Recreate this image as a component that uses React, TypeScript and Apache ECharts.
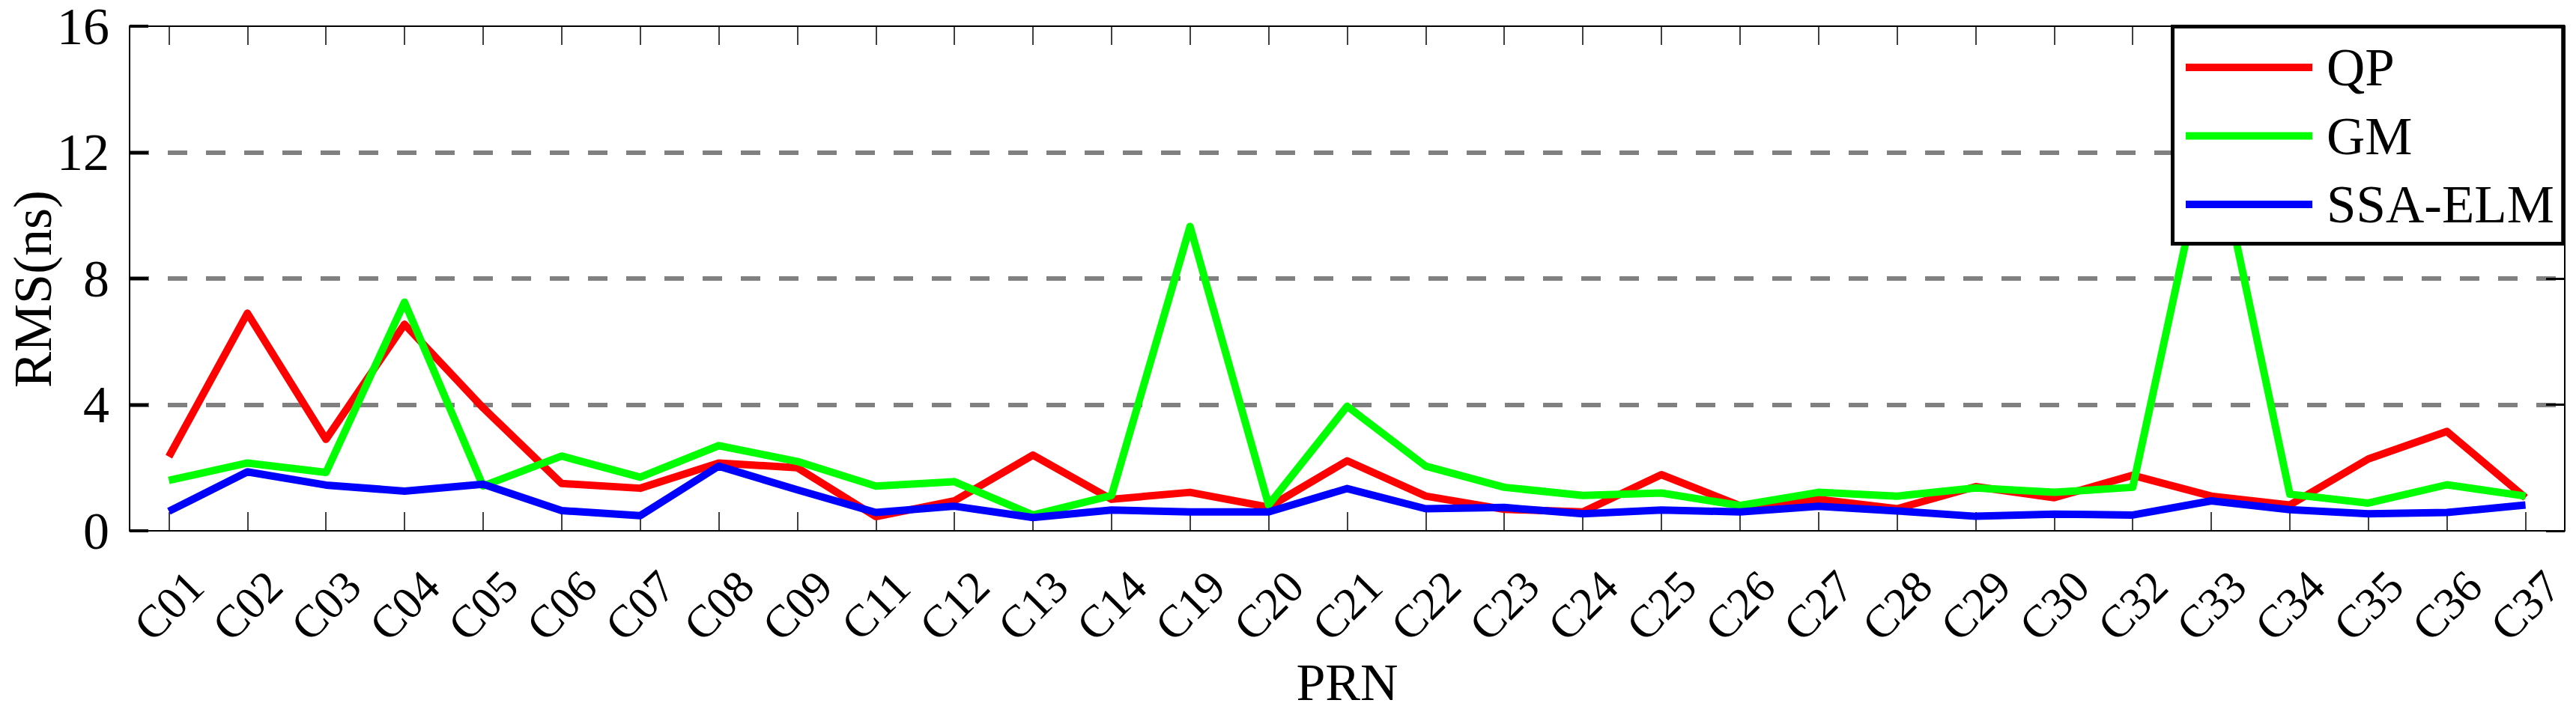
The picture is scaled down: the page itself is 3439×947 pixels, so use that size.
import React, { useEffect, useRef } from 'react';
import * as echarts from 'echarts';

const categories = [
  'C01', 'C02', 'C03', 'C04', 'C05', 'C06', 'C07', 'C08', 'C09', 'C11', 'C12',
  'C13', 'C14', 'C19', 'C20', 'C21', 'C22', 'C23', 'C24', 'C25', 'C26', 'C27',
  'C28', 'C29', 'C30', 'C32', 'C33', 'C34', 'C35', 'C36', 'C37',
];

const qpValues = [
  2.35, 6.9, 2.9, 6.55, 3.9, 1.5, 1.35, 2.15, 2.0, 0.45, 0.95,
  2.4, 1.0, 1.22, 0.75, 2.22, 1.1, 0.68, 0.6, 1.78, 0.8, 1.0,
  0.7, 1.4, 1.05, 1.76, 1.1, 0.82, 2.28, 3.15, 1.05,
];

const gmValues = [
  1.6, 2.15, 1.85, 7.25, 1.42, 2.37, 1.7, 2.7, 2.2, 1.42, 1.56,
  0.5, 1.12, 9.65, 0.82, 3.95, 2.05, 1.38, 1.12, 1.2, 0.8, 1.22,
  1.1, 1.36, 1.22, 1.38, 12.9, 1.16, 0.88, 1.46, 1.1,
];

const ssaElmValues = [
  0.62, 1.87, 1.45, 1.26, 1.48, 0.64, 0.48, 2.05, 1.3, 0.58, 0.78,
  0.42, 0.66, 0.6, 0.6, 1.34, 0.7, 0.74, 0.54, 0.66, 0.6, 0.78,
  0.63, 0.46, 0.53, 0.5, 0.95, 0.67, 0.54, 0.58, 0.82,
];

const seriesNames = ['QP', 'GM', 'SSA-ELM'];
const seriesColors = ['#ff0000', '#00ff00', '#0000ff'];
const yMin = 0;
const yMax = 16;
const yInterval = 4;
const xTitle = 'PRN';
const yTitle = 'RMS(ns)';

const FONT = 'Liberation Serif';

export default function App() {
  const ref = useRef<HTMLDivElement>(null);

  useEffect(() => {
    if (!ref.current) return;
    const chart = echarts.init(ref.current, null, { renderer: 'svg' });

    const axisLineStyle = { color: '#000', width: 2 };
    const xTick = {
      show: true,
      inside: true,
      length: 25,
      alignWithLabel: true,
      interval: 0,
      lineStyle: { color: '#000', width: 1.5 },
    };
    const yTick = {
      show: true,
      inside: true,
      length: 25,
      lineStyle: { color: '#000', width: 4 },
    };

    const valuesList = [qpValues, gmValues, ssaElmValues];

    chart.setOption({
      animation: false,
      backgroundColor: '#ffffff',
      grid: {
        left: 173,
        right: 15,
        top: 35,
        bottom: 238,
        containLabel: false,
        outerBoundsMode: 'none',
      },
      graphic: [
        {
          type: 'text',
          x: 44,
          y: 386,
          rotation: Math.PI / 2,
          silent: true,
          style: {
            text: yTitle,
            fontFamily: FONT,
            fontSize: 72,
            fill: '#000',
            align: 'center',
            verticalAlign: 'middle',
          },
        },
      ],
      legend: {
        show: true,
        orient: 'vertical',
        left: 2900.5,
        top: 35.5,
        padding: [18.5, 12, 16.5, 12.5],
        itemGap: 19.5,
        itemWidth: 169,
        itemHeight: 10,
        backgroundColor: '#ffffff',
        borderColor: '#000000',
        borderWidth: 5,
        borderRadius: 0,
        align: 'left',
        selectedMode: false,
        z: 20,
        lineStyle: { width: 10 },
        textStyle: {
          fontFamily: FONT,
          fontSize: 71,
          color: '#000',
          lineHeight: 72,
          padding: [0, 0, 0, 14],
        },
        data: seriesNames,
      },
      xAxis: [
        {
          type: 'category',
          data: categories,
          position: 'bottom',
          boundaryGap: true,
          axisLine: { show: true, onZero: false, lineStyle: axisLineStyle },
          axisTick: xTick,
          axisLabel: {
            show: true,
            interval: 0,
            rotate: 45,
            align: 'center',
            verticalAlign: 'middle',
            margin: 100,
            fontFamily: FONT,
            fontSize: 61,
            color: '#000',
            hideOverlap: false,
          },
          splitLine: { show: false },
          name: xTitle,
          nameLocation: 'middle',
          nameGap: 177,
          nameMoveOverlap: false,
          nameTextStyle: { fontFamily: FONT, fontSize: 70, color: '#000', lineHeight: 50 },
        },
        {
          type: 'category',
          data: categories,
          position: 'top',
          boundaryGap: true,
          axisLine: { show: true, onZero: false, lineStyle: axisLineStyle },
          axisTick: xTick,
          axisLabel: { show: false },
          splitLine: { show: false },
        },
      ],
      yAxis: [
        {
          type: 'value',
          min: yMin,
          max: yMax,
          interval: yInterval,
          position: 'left',
          axisLine: { show: true, onZero: false, lineStyle: axisLineStyle },
          axisTick: yTick,
          axisLabel: {
            show: true,
            margin: 27,
            fontFamily: FONT,
            fontSize: 70,
            lineHeight: 56,
            color: '#000',
          },
          splitLine: {
            show: true,
            showMinLine: false,
            showMaxLine: false,
            lineStyle: { color: '#808080', width: 6, type: [26, 25] },
          },
        },
        {
          type: 'value',
          min: yMin,
          max: yMax,
          interval: yInterval,
          position: 'right',
          axisLine: { show: true, onZero: false, lineStyle: axisLineStyle },
          axisTick: { ...yTick, lineStyle: { color: '#000', width: 3 } },
          axisLabel: { show: false },
          splitLine: { show: false },
        },
      ],
      series: seriesNames.map((name, i) => ({
        name,
        type: 'line',
        xAxisIndex: 0,
        yAxisIndex: 0,
        data: valuesList[i],
        symbol: 'none',
        showSymbol: false,
        smooth: false,
        z: 2 + i,
        itemStyle: { color: seriesColors[i] },
        lineStyle: { color: seriesColors[i], width: 10, join: 'round', cap: 'butt' },
        emphasis: { disabled: true },
      })),
    });

    return () => {
      chart.dispose();
    };
  }, []);

  return (
    <div
      ref={ref}
      style={{ position: 'fixed', left: 0, top: 0, width: 3439, height: 947, background: '#fff' }}
    />
  );
}
